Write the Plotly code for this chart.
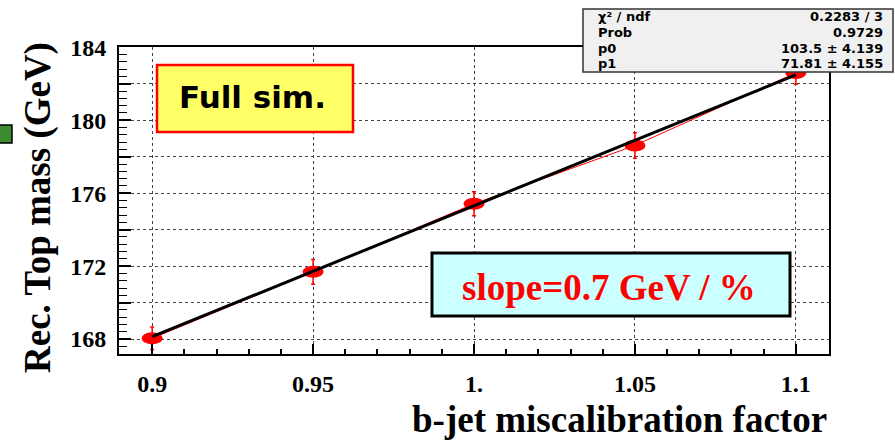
import plotly.graph_objects as go

# Measured top mass versus b-jet energy scale factor
scale_factor = [0.90, 0.95, 1.00, 1.05, 1.10]
top_mass = [168.04, 171.69, 175.42, 178.62, 182.60]
mass_err = [0.62, 0.68, 0.66, 0.70, 0.62]

# Linear fit result (p0 + p1 * x)
fit_labels = ["χ² / ndf", "Prob", "p0", "p1"]
fit_values = ["0.2283 / 3", "0.9729", "103.5 ± 4.139", "71.81 ± 4.155"]
p0 = 103.5
p1 = 71.81

x_ticks = [0.90, 0.95, 1.00, 1.05, 1.10]
x_ticktext = ["0.9", "0.95", "1.", "1.05", "1.1"]
y_ticks = [168, 170, 172, 174, 176, 178, 180, 182, 184]
y_ticktext = ["168", "", "172", "", "176", "", "180", "", "184"]

W, H = 895, 440
ML, MR, MT, MB = 119, 66, 47, 86
PW, PH = W - ML - MR, H - MT - MB


def px(v):
    return (v - ML) / PW


def py(v):
    return (H - MB - v) / PH


fit_x = [scale_factor[0], scale_factor[-1]]
fit_y = [p0 + p1 * v for v in fit_x]

fig = go.Figure()

# data points: error bars plus thin connecting line
fig.add_trace(go.Scatter(
    x=scale_factor, y=top_mass, mode="lines",
    line=dict(color="#ff0000", width=1),
    error_y=dict(type="data", array=mass_err, color="#ff0000",
                 thickness=1.5, width=2),
    showlegend=False, hoverinfo="skip",
))

# fitted straight line
fig.add_trace(go.Scatter(
    x=fit_x, y=fit_y, mode="lines",
    line=dict(color="black", width=3),
    showlegend=False, hoverinfo="skip",
))

shapes = []
# elliptical markers anchored at each data point
for xv, yv in zip(scale_factor, top_mass):
    shapes.append(dict(
        type="circle", xref="x", yref="y",
        xsizemode="pixel", ysizemode="pixel",
        xanchor=xv, yanchor=yv, x0=-10.5, x1=10.5, y0=-6, y1=6,
        fillcolor="#ff0000", line=dict(width=0), layer="between",
    ))

# "Full sim." label box
shapes.append(dict(type="rect", xref="paper", yref="paper",
                   x0=px(157), x1=px(353), y0=py(132), y1=py(65),
                   fillcolor="#ffff66", line=dict(color="#ff0000", width=2.5),
                   layer="above"))
# slope label box
shapes.append(dict(type="rect", xref="paper", yref="paper",
                   x0=px(432), x1=px(790), y0=py(316), y1=py(253),
                   fillcolor="#ccffff", line=dict(color="black", width=3),
                   layer="above"))
# fit statistics box
shapes.append(dict(type="rect", xref="paper", yref="paper",
                   x0=px(583), x1=px(893), y0=py(72), y1=py(9),
                   fillcolor="#f0f0f0", line=dict(color="#333333", width=1.5),
                   layer="above"))
# small green legend swatch at the left edge
shapes.append(dict(type="rect", xref="paper", yref="paper",
                   x0=px(-2), x1=px(12), y0=py(143), y1=py(125),
                   fillcolor="#3d8a30", line=dict(color="black", width=1.5),
                   layer="above"))

annotations = [
    dict(text="Full sim.", xref="paper", yref="paper",
         x=px(252), y=py(97), xanchor="center", yanchor="middle",
         showarrow=False,
         font=dict(family="DejaVu Sans", size=31, color="black", weight="bold")),
    dict(text="slope=0.7 GeV / %", xref="paper", yref="paper",
         x=px(609), y=py(287), xanchor="center", yanchor="middle",
         showarrow=False,
         font=dict(family="Liberation Serif", size=37, color="#ff0000", weight="bold")),
]

row_y = [17, 32.5, 48, 63.5]
for lab, val, ry in zip(fit_labels, fit_values, row_y):
    annotations.append(dict(text=lab, xref="paper", yref="paper",
                            x=px(597), y=py(ry), xanchor="left", yanchor="middle",
                            showarrow=False, borderpad=0,
                            font=dict(family="DejaVu Sans", size=13, color="black",
                                      weight="bold")))
    annotations.append(dict(text=val, xref="paper", yref="paper",
                            x=px(884), y=py(ry), xanchor="right", yanchor="middle",
                            showarrow=False, borderpad=0,
                            font=dict(family="DejaVu Sans", size=13, color="black",
                                      weight="bold")))

# axis titles
annotations.append(dict(text="b-jet miscalibration factor", xref="paper", yref="paper",
                        x=px(829), y=py(419), xanchor="right", yanchor="middle",
                        showarrow=False,
                        font=dict(family="Liberation Serif", size=37, color="black",
                                  weight="bold")))
annotations.append(dict(text="Rec. Top mass (GeV)", xref="paper", yref="paper",
                        x=px(38), y=py(208), xanchor="center", yanchor="middle",
                        textangle=-90, showarrow=False,
                        font=dict(family="Liberation Serif", size=37, color="black",
                                  weight="bold")))

tick_font = dict(family="Liberation Serif", size=24, color="black", weight="bold")

fig.update_layout(
    width=W, height=H,
    margin=dict(l=ML, r=MR, t=MT, b=MB, pad=0),
    paper_bgcolor="white", plot_bgcolor="white",
    shapes=shapes, annotations=annotations,
    xaxis=dict(
        range=[0.8897, 1.1103], tickmode="array",
        tickvals=x_ticks, ticktext=x_ticktext,
        ticks="inside", ticklen=10, tickwidth=2, tickcolor="black",
        minor=dict(dtick=0.01, tick0=0.9, ticks="inside", ticklen=5,
                   tickwidth=1.5, tickcolor="black", showgrid=False),
        showgrid=True, gridcolor="#444444", griddash="dot", gridwidth=1,
        showline=True, linecolor="black", linewidth=2, mirror=True,
        zeroline=False, tickfont=tick_font, ticklabelstandoff=7,
    ),
    yaxis=dict(
        range=[167.18, 184.02], tickmode="array",
        tickvals=y_ticks, ticktext=y_ticktext,
        ticks="inside", ticklen=12, tickwidth=1.5, tickcolor="black",
        minor=dict(dtick=0.4, tick0=168, ticks="inside", ticklen=8,
                   tickwidth=1, tickcolor="black", showgrid=False),
        showgrid=True, gridcolor="#444444", griddash="dot", gridwidth=1,
        showline=True, linecolor="black", linewidth=2, mirror=True,
        zeroline=False, tickfont=tick_font, ticklabelstandoff=6,
    ),
)

fig.write_html("out.html")
